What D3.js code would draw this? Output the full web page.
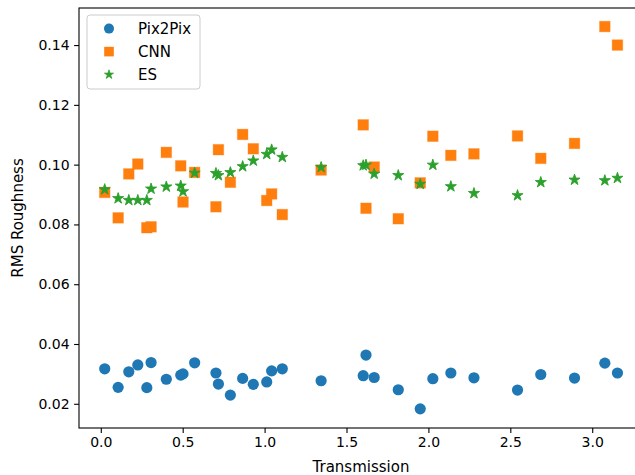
<!DOCTYPE html>
<html>
<head>
<meta charset="utf-8">
<script src="https://cdn.jsdelivr.net/npm/d3@7"></script>
<style>
  body { margin: 0; background: #fff; }
  svg { display: block; font-family: "DejaVu Sans", sans-serif; }
</style>
</head>
<body>
<svg id="chart"></svg>
<script>
// Data
const transmission = [0.024, 0.106, 0.171, 0.226, 0.281, 0.307, 0.400, 0.488, 0.502, 0.573,
  0.703, 0.718, 0.791, 0.866, 0.931, 1.013, 1.043, 1.108, 1.345, 1.602, 1.619, 1.669,
  1.816, 1.950, 2.027, 2.137, 2.278, 2.544, 2.686, 2.892, 3.077, 3.154];

const pix2pix = [0.0317, 0.0255, 0.0307, 0.0330, 0.0254, 0.0338, 0.0282, 0.0296, 0.0300, 0.0337,
  0.0303, 0.0266, 0.0229, 0.0285, 0.0265, 0.0273, 0.0310, 0.0317, 0.0277, 0.0294, 0.0363, 0.0288,
  0.0247, 0.0183, 0.0284, 0.0303, 0.0287, 0.0246, 0.0298, 0.0286, 0.0336, 0.0303];

const cnn = [0.0907, 0.0822, 0.0969, 0.1002, 0.0789, 0.0792, 0.1041, 0.0996, 0.0875, 0.0974,
  0.0859, 0.1050, 0.0941, 0.1101, 0.1053, 0.0880, 0.0902, 0.0833, 0.0982, 0.1133, 0.0854, 0.0992,
  0.0819, 0.0939, 0.1095, 0.1031, 0.1036, 0.1096, 0.1021, 0.1071, 0.1462, 0.1400];

const es = [0.0917, 0.0887, 0.0881, 0.0881, 0.0881, 0.0919, 0.0926, 0.0929, 0.0910, 0.0972,
  0.0971, 0.0964, 0.0974, 0.0994, 0.1013, 0.1035, 0.1050, 0.1025, 0.0991, 0.0997, 0.0999, 0.0969,
  0.0964, 0.0935, 0.0999, 0.0927, 0.0904, 0.0897, 0.0941, 0.0949, 0.0947, 0.0955];

const xTicks = [0.0, 0.5, 1.0, 1.5, 2.0, 2.5, 3.0];
const yTicks = [0.02, 0.04, 0.06, 0.08, 0.10, 0.12, 0.14];

const palette = { pix2pix: "#1f77b4", cnn: "#ff7f0e", es: "#2ca02c" };

// Layout (plot area runs past the right edge, like the cropped original)
const W = 635, H = 475;
const margin = { top: 8, left: 79 };
const width = 564, height = 420;

const svg = d3.select("#chart").attr("width", W).attr("height", H);
const g = svg.append("g").attr("transform", `translate(${margin.left},${margin.top})`);

const x = d3.scaleLinear().domain([-0.133, 3.310]).range([0, width]);
const y = d3.scaleLinear().domain([0.0119, 0.1524]).range([height, 0]);

// axes
const xAxis = g.append("g")
  .attr("transform", `translate(0,${height})`)
  .call(d3.axisBottom(x).tickValues(xTicks).tickFormat(d3.format(".1f")).tickSize(4.9).tickPadding(4.5));
const yAxis = g.append("g")
  .call(d3.axisLeft(y).tickValues(yTicks).tickFormat(d3.format(".2f")).tickSize(4.9).tickPadding(4.5));

[xAxis, yAxis].forEach(a => {
  a.select(".domain").remove();
  a.selectAll("line").attr("stroke", "#000").attr("stroke-width", 1.1);
  a.selectAll("text").attr("fill", "#000").style("font-size", "14px").style("font-family", "DejaVu Sans");
});

// spines
g.append("rect")
  .attr("x", 0).attr("y", 0)
  .attr("width", width).attr("height", height)
  .attr("fill", "none").attr("stroke", "#000").attr("stroke-width", 1.1);

// points
const pts = transmission.map((t, i) => ({ t, p: pix2pix[i], c: cnn[i], e: es[i] }));

g.selectAll(".dot-pix")
  .data(pts)
  .join("circle")
    .attr("class", "dot-pix")
    .attr("cx", d => x(d.t))
    .attr("cy", d => y(d.p))
    .attr("r", 5.6)
    .attr("fill", palette.pix2pix);

const sq = 10.6;
g.selectAll(".dot-cnn")
  .data(pts)
  .join("rect")
    .attr("class", "dot-cnn")
    .attr("x", d => x(d.t) - sq / 2)
    .attr("y", d => y(d.c) - sq / 2)
    .attr("width", sq).attr("height", sq)
    .attr("fill", palette.cnn)
    .attr("stroke", palette.cnn).attr("stroke-opacity", 0.35).attr("stroke-width", 1);

const star = d3.symbol().type(d3.symbolStar).size(38);
g.selectAll(".dot-es")
  .data(pts)
  .join("path")
    .attr("class", "dot-es")
    .attr("transform", d => `translate(${x(d.t)},${y(d.e)})`)
    .attr("d", star)
    .attr("fill", palette.es)
    .attr("stroke", palette.es).attr("stroke-width", 0.9).attr("stroke-linejoin", "round");

// axis labels
svg.append("text")
  .attr("x", margin.left + width / 2).attr("y", 471.5)
  .attr("text-anchor", "middle")
  .style("font-size", "15px")
  .text("Transmission");

svg.append("text")
  .attr("transform", `translate(23,${margin.top + height / 2}) rotate(-90)`)
  .attr("text-anchor", "middle")
  .style("font-size", "15px")
  .text("RMS Roughness");

// legend
const legend = svg.append("g");
legend.append("rect")
  .attr("x", 87).attr("y", 15).attr("width", 113).attr("height", 74).attr("rx", 3)
  .attr("fill", "#fff").attr("fill-opacity", 0.8)
  .attr("stroke", "#cccccc").attr("stroke-width", 1);

const legendItems = [
  { label: "Pix2Pix", color: palette.pix2pix, shape: "circle" },
  { label: "CNN", color: palette.cnn, shape: "square" },
  { label: "ES", color: palette.es, shape: "star" }
];

legendItems.forEach((it, i) => {
  const cy = 28.6 + i * 23;
  if (it.shape === "circle") {
    legend.append("circle").attr("cx", 109).attr("cy", cy).attr("r", 5).attr("fill", it.color);
  } else if (it.shape === "square") {
    legend.append("rect").attr("x", 104.2).attr("y", cy - 4.8).attr("width", 9.6).attr("height", 9.6).attr("fill", it.color);
  } else {
    legend.append("path").attr("transform", `translate(109,${cy})`)
      .attr("d", d3.symbol().type(d3.symbolStar).size(26)).attr("fill", it.color)
      .attr("stroke", it.color).attr("stroke-width", 0.7).attr("stroke-linejoin", "round");
  }
  legend.append("text")
    .attr("x", 138).attr("y", cy + 5.4)
    .style("font-size", "15px")
    .text(it.label);
});
</script>
</body>
</html>
